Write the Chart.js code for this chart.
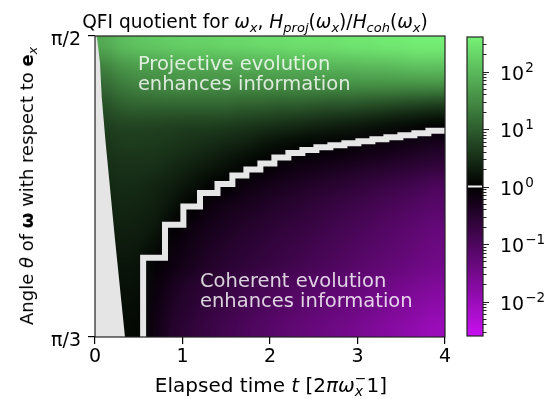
<!DOCTYPE html>
<html>
<head>
<meta charset="utf-8">
<script src="https://cdn.jsdelivr.net/npm/chart.js@4.4.1/dist/chart.umd.min.js"></script>
<style>
body { margin:0; background:#fff; }
#wrap { position:relative; width:552px; height:399px; overflow:hidden; font-family:'DejaVu Sans'; }
canvas { position:absolute; left:0; top:0; }
.lbl { position:absolute; white-space:nowrap; line-height:1; color:#000; }
.lbl sub { font-size:70%; vertical-align:-0.3em; line-height:0; }
.ss { display:inline-block; font-size:70%; line-height:0.95; vertical-align:-0.3em; }
.ss span { display:block; }
</style>
</head>
<body>
<div id="wrap">
  <canvas id="main" width="552" height="399"></canvas>
  <canvas id="cbar" width="552" height="399"></canvas>
  <div class="lbl" id="title" style="left:255px; top:13px; font-size:18.6px; transform:translateX(-50%)">QFI quotient for <i>ω</i><sub><i>x</i></sub>, <i>H</i><sub><i>proj</i></sub>(<i>ω</i><sub><i>x</i></sub>)/<i>H</i><sub><i>coh</i></sub>(<i>ω</i><sub><i>x</i></sub>)</div>
  <div class="lbl" id="xtitle" style="left:271px; top:372px; font-size:20px; transform:translateX(-50%)">Elapsed time <i>t</i> [2<i>πω</i><span class="ss"><span>−</span><span><i>x</i></span></span>1]</div>
  <div class="lbl" id="ytitle" style="left:27px; top:186px; font-size:18px; transform:translate(-50%,-50%) rotate(-90deg)">Angle <i>θ</i> of <b>ω</b> with respect to <b>e</b><sub><i>x</i></sub></div>
</div>
<script>
// cell centres of the map: elapsed time and angle (degrees, 60 = pi/3, 90 = pi/2)
const tCenters = [0.1, 0.3, 0.5, 0.7, 0.9, 1.1, 1.3, 1.5, 1.7, 1.9, 2.1, 2.3, 2.5, 2.7, 2.9, 3.1, 3.3, 3.5, 3.7, 3.9];
const thetaCenters = [89, 87, 85, 83, 81, 79, 77, 75, 73, 71, 69, 67, 65, 63, 61];

// log10 of H_proj / H_coh, one row per angle, top row first
const logQ = [
  [1.8, 2.0, 2.1, 2.15, 2.2, 2.25, 2.25, 2.3, 2.3, 2.35, 2.35, 2.4, 2.4, 2.4, 2.45, 2.45, 2.5, 2.5, 2.55, 2.55],
  [1.4, 1.6, 1.7, 1.7, 1.75, 1.8, 1.8, 1.8, 1.85, 1.85, 1.9, 1.9, 1.9, 1.95, 1.95, 2.0, 2.0, 2.05, 2.1, 2.1],
  [1.1, 1.3, 1.4, 1.45, 1.5, 1.5, 1.5, 1.5, 1.5, 1.5, 1.5, 1.5, 1.5, 1.5, 1.5, 1.5, 1.5, 1.5, 1.5, 1.5],
  [0.85, 1.0, 1.05, 1.05, 1.05, 1.05, 1.05, 1.05, 1.0, 1.0, 0.95, 0.95, 0.9, 0.85, 0.85, 0.8, 0.75, 0.7, 0.65, 0.6],
  [0.65, 0.72, 0.72, 0.7, 0.68, 0.66, 0.65, 0.62, 0.58, 0.52, 0.47, 0.42, 0.37, 0.32, 0.27, 0.22, 0.16, 0.1, 0.05, 0.0],
  [0.55, 0.62, 0.62, 0.6, 0.56, 0.5, 0.44, 0.37, 0.3, 0.2, 0.12, 0.05, 0.02, -0.03, -0.08, -0.13, -0.18, -0.24, -0.3, -0.36],
  [0.48, 0.52, 0.52, 0.5, 0.42, 0.34, 0.26, 0.16, 0.06, 0.0, -0.1, -0.17, -0.23, -0.29, -0.35, -0.41, -0.47, -0.53, -0.59, -0.65],
  [0.42, 0.46, 0.45, 0.38, 0.3, 0.18, 0.04, -0.03, -0.15, -0.25, -0.33, -0.4, -0.47, -0.53, -0.6, -0.67, -0.75, -0.82, -0.9, -1.0],
  [0.36, 0.4, 0.38, 0.32, 0.18, 0.0, -0.15, -0.25, -0.33, -0.4, -0.48, -0.55, -0.62, -0.7, -0.77, -0.85, -0.92, -1.0, -1.08, -1.15],
  [0.3, 0.34, 0.32, 0.25, -0.03, -0.15, -0.27, -0.37, -0.45, -0.52, -0.6, -0.67, -0.74, -0.82, -0.9, -0.98, -1.06, -1.14, -1.22, -1.3],
  [0.25, 0.28, 0.26, 0.12, -0.12, -0.25, -0.37, -0.47, -0.55, -0.62, -0.7, -0.77, -0.85, -0.92, -1.0, -1.08, -1.16, -1.24, -1.32, -1.4],
  [0.2, 0.22, 0.2, -0.05, -0.2, -0.33, -0.45, -0.55, -0.63, -0.7, -0.78, -0.86, -0.94, -1.02, -1.1, -1.18, -1.26, -1.34, -1.42, -1.5],
  [0.16, 0.18, 0.16, -0.12, -0.35, -0.5, -0.6, -0.7, -0.8, -0.9, -0.98, -1.05, -1.12, -1.2, -1.27, -1.35, -1.43, -1.52, -1.6, -1.68],
  [0.13, 0.14, 0.12, -0.18, -0.42, -0.55, -0.67, -0.78, -0.88, -0.97, -1.06, -1.14, -1.22, -1.3, -1.38, -1.46, -1.55, -1.65, -1.75, -1.85],
  [0.1, 0.11, 0.09, -0.22, -0.5, -0.62, -0.75, -0.86, -0.97, -1.07, -1.17, -1.26, -1.34, -1.42, -1.5, -1.6, -1.7, -1.8, -1.9, -2.0]
];

// edge of the grey region with no value (left of it)
const wedgeT = [0, 0.017, 0.026, 0.057, 0.077, 0.12, 0.229, 0.343];
const wedgeTheta = [90, 90, 89.6, 87.3, 83.9, 79.5, 69.7, 60];

// staircase where the quotient is 1 (each angle holds from its time on)
const stepT = [0.55, 0.55, 0.80, 1.01, 1.20, 1.40, 1.57, 1.73, 1.89, 2.05, 2.21, 2.37, 2.53, 2.69, 2.85, 3.01, 3.17, 3.33, 3.49, 3.65, 3.81, 4.0];
const stepTheta = [60, 67.9, 71.2, 73.0, 74.35, 75.25, 76.1, 76.7, 77.3, 77.9, 78.35, 78.65, 78.9, 79.1, 79.3, 79.5, 79.7, 79.9, 80.1, 80.3, 80.55, 80.8];

const xTicks = [0, 1, 2, 3, 4];
const yTickValues = [60, 90];
const yTickLabels = ['π/3', 'π/2'];
const cbarMajor = [0.01, 0.1, 1, 10, 100];
const cbarExponents = ['−2', '−1', '0', '1', '2'];
const LOGMAX = 2.6;
const cbarMin = Math.pow(10, -LOGMAX), cbarMax = Math.pow(10, LOGMAX);

const GREEN = [118, 242, 118], PURPLE = [200, 16, 240];
function cmap(v) {
  var f = Math.min(Math.abs(v) / LOGMAX, 1);
  var c = v >= 0 ? GREEN : PURPLE;
  return [Math.round(c[0] * f), Math.round(c[1] * f), Math.round(c[2] * f)];
}

Chart.defaults.font.family = "'DejaVu Sans'";
Chart.defaults.font.size = 19;
Chart.defaults.color = '#000';

// map drawn as a smoothed image placed with the chart scales
const heatmap = {
  id: 'heatmap',
  beforeDatasetsDraw(chart) {
    const {ctx, chartArea, scales: {x, y}} = chart;
    const nx = tCenters.length, ny = thetaCenters.length;
    const off = document.createElement('canvas');
    off.width = nx; off.height = ny;
    const octx = off.getContext('2d');
    const img = octx.createImageData(nx, ny);
    for (let r = 0; r < ny; r++) {
      for (let c = 0; c < nx; c++) {
        const col = cmap(logQ[r][c]);
        const k = (r * nx + c) * 4;
        img.data[k] = col[0]; img.data[k + 1] = col[1]; img.data[k + 2] = col[2]; img.data[k + 3] = 255;
      }
    }
    octx.putImageData(img, 0, 0);
    const dt = (tCenters[1] - tCenters[0]) / 2;
    const dth = (thetaCenters[0] - thetaCenters[1]) / 2;
    const left = x.getPixelForValue(tCenters[0] - dt);
    const right = x.getPixelForValue(tCenters[nx - 1] + dt);
    const top = y.getPixelForValue(thetaCenters[0] + dth);
    const bottom = y.getPixelForValue(thetaCenters[ny - 1] - dth);
    ctx.save();
    ctx.beginPath();
    ctx.rect(chartArea.left, chartArea.top, chartArea.width, chartArea.height);
    ctx.clip();
    ctx.imageSmoothingEnabled = true;
    ctx.imageSmoothingQuality = 'high';
    ctx.drawImage(off, left, top, right - left, bottom - top);
    ctx.restore();
  }
};

const notes = {
  id: 'notes',
  afterDatasetsDraw(chart, args, opts) {
    const {ctx, scales: {x, y}} = chart;
    ctx.save();
    ctx.font = "19.5px 'DejaVu Sans'";
    ctx.fillStyle = 'rgba(255,255,255,0.82)';
    ctx.textBaseline = 'alphabetic';
    opts.items.forEach(it => {
      ctx.fillText(it.text, x.getPixelForValue(it.t), y.getPixelForValue(it.theta));
    });
    ctx.restore();
  },
  afterDraw(chart) {
    const {ctx, chartArea: a} = chart;
    ctx.save();
    ctx.strokeStyle = '#222';
    ctx.lineWidth = 1.2;
    ctx.strokeRect(a.left, a.top, a.width, a.height);
    ctx.restore();
  }
};

new Chart(document.getElementById('main'), {
  type: 'line',
  data: {
    datasets: [
      {
        label: 'no value',
        data: wedgeT.map((t, i) => ({x: t, y: wedgeTheta[i]})),
        fill: 'start',
        backgroundColor: '#e5e5e5',
        borderWidth: 0,
        pointRadius: 0,
        tension: 0,
        clip: 0
      },
      {
        label: 'quotient = 1',
        data: stepT.map((t, i) => ({x: t, y: stepTheta[i]})),
        stepped: true,
        fill: false,
        borderColor: '#e6e6e6',
        borderWidth: 6,
        borderCapStyle: 'butt',
        borderJoinStyle: 'miter',
        pointRadius: 0,
        clip: 0
      }
    ]
  },
  options: {
    responsive: false,
    animation: false,
    devicePixelRatio: 1,
    layout: {padding: {left: 45, top: 36, right: 107, bottom: 22}},
    plugins: {
      legend: {display: false},
      tooltip: {enabled: false},
      notes: {
        items: [
          {text: 'Projective evolution', t: 0.49, theta: 86.58},
          {text: 'enhances information', t: 0.49, theta: 84.62},
          {text: 'Coherent evolution', t: 1.2, theta: 64.95},
          {text: 'enhances information', t: 1.2, theta: 62.96}
        ]
      }
    },
    scales: {
      x: {
        type: 'linear', min: 0, max: 4,
        afterBuildTicks: s => { s.ticks = xTicks.map(v => ({value: v})); },
        afterFit: s => { s.height = 40; },
        grid: {drawOnChartArea: false, tickLength: 7, color: '#000', lineWidth: 1.2},
        border: {display: false},
        ticks: {padding: 2, color: '#000'}
      },
      y: {
        type: 'linear', min: 60, max: 90,
        afterBuildTicks: s => { s.ticks = yTickValues.map(v => ({value: v})); },
        afterFit: s => { s.width = 50; },
        grid: {drawOnChartArea: false, tickLength: 7, color: '#000', lineWidth: 1.2},
        border: {display: false},
        ticks: {padding: 7, labelOffset: 4, color: '#000', callback: v => yTickLabels[yTickValues.indexOf(v)]}
      }
    }
  },
  plugins: [heatmap, notes]
});

// colour bar
function cbarGradient(chart) {
  const area = chart.chartArea;
  if (!area) return null;
  const ys = chart.scales.y;
  const g = chart.ctx.createLinearGradient(0, area.bottom, 0, area.top);
  for (let k = 0; k <= 52; k++) {
    const lv = -LOGMAX + k * 0.1;
    const p = (area.bottom - ys.getPixelForValue(Math.pow(10, lv))) / area.height;
    const c = cmap(lv);
    g.addColorStop(Math.min(Math.max(p, 0), 1), 'rgb(' + c.join(',') + ')');
  }
  return g;
}

const cbarTicks = [];
for (let e = -3; e <= 2; e++) {
  for (let m = 1; m <= 9; m++) {
    const v = m === 1 ? cbarMajor[e + 2] : m * Math.pow(10, e);
    if (v !== undefined && v >= cbarMin && v <= cbarMax) cbarTicks.push(v);
  }
}

// ticks, the mark at 1, the frame and the power-of-ten labels of the colour bar
const cbarDeco = {
  id: 'cbarDeco',
  afterDraw(chart) {
    const {ctx, chartArea: a, scales: {y}} = chart;
    ctx.save();
    ctx.fillStyle = '#f2f2f2';
    const p1 = y.getPixelForValue(1);
    ctx.fillRect(a.left + 1, p1 - 1, a.width - 2, 2);
    ctx.strokeStyle = '#222';
    ctx.lineWidth = 1;
    cbarTicks.forEach(v => {
      const py = Math.round(y.getPixelForValue(v)) + 0.5;
      const len = cbarMajor.indexOf(v) >= 0 ? 6 : 3.5;
      ctx.beginPath();
      ctx.moveTo(a.right, py);
      ctx.lineTo(a.right + len, py);
      ctx.stroke();
    });
    ctx.lineWidth = 1.2;
    ctx.strokeRect(a.left, a.top, a.width, a.height);
    ctx.fillStyle = '#000';
    ctx.textBaseline = 'alphabetic';
    cbarMajor.forEach((v, i) => {
      const py = y.getPixelForValue(v);
      const lx = a.right + 17;
      ctx.font = "19px 'DejaVu Sans'";
      ctx.fillText('10', lx, py + 8);
      const w = ctx.measureText('10').width;
      ctx.font = "13.5px 'DejaVu Sans'";
      ctx.fillText(cbarExponents[i], lx + w + 1, py);
    });
    ctx.restore();
  }
};

new Chart(document.getElementById('cbar'), {
  type: 'bar',
  data: {
    labels: [''],
    datasets: [{
      data: [[cbarMin, cbarMax]],
      backgroundColor: c => cbarGradient(c.chart),
      borderWidth: 0,
      barPercentage: 1,
      categoryPercentage: 1
    }]
  },
  options: {
    responsive: false,
    animation: false,
    devicePixelRatio: 1,
    layout: {padding: {left: 467, top: 37, right: 9, bottom: 63}},
    plugins: {legend: {display: false}, tooltip: {enabled: false}},
    scales: {
      x: {display: false},
      y: {
        type: 'logarithmic', position: 'right', min: cbarMin, max: cbarMax,
        afterBuildTicks: s => { s.ticks = cbarTicks.map(v => ({value: v})); },
        afterFit: s => { s.width = 60; },
        grid: {display: false},
        border: {display: false},
        ticks: {display: false}
      }
    }
  },
  plugins: [cbarDeco]
});
</script>
</body>
</html>
